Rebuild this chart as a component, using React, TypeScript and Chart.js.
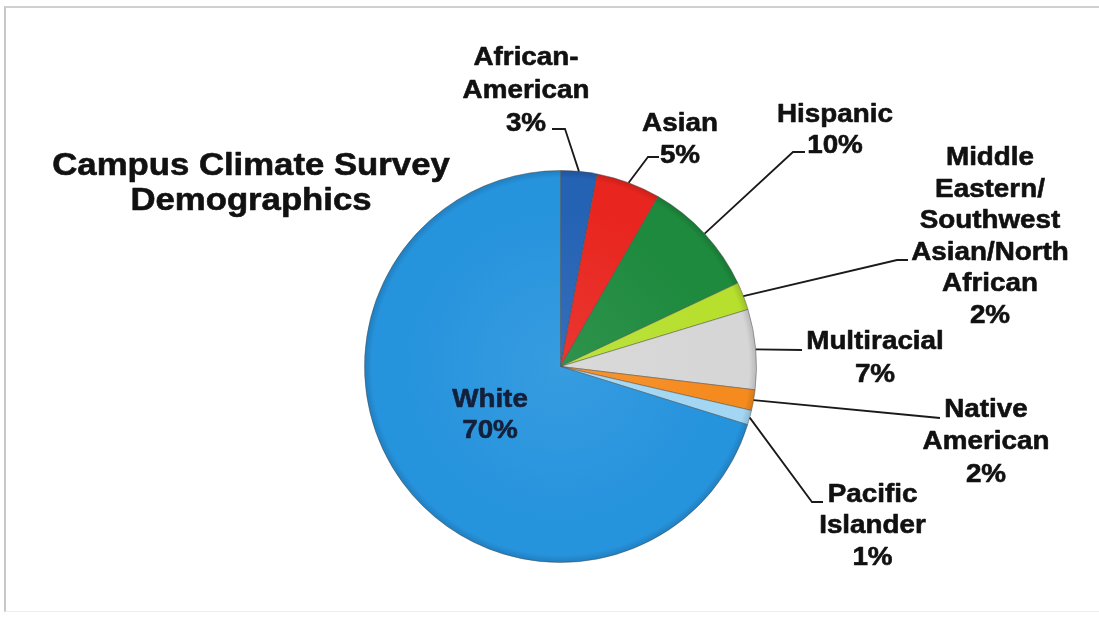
import React, { useEffect, useRef } from "react";
import { Chart, registerables } from "chart.js";

Chart.register(...registerables);

const categories = [
  "African-American",
  "Asian",
  "Hispanic",
  "Middle Eastern/Southwest Asian/North African",
  "Multiracial",
  "Native American",
  "Pacific Islander",
  "White",
];
const values = [3.0, 5.3, 9.7, 2.3, 6.6, 1.7, 1.2, 70.2];
const labelLines = [
  ["African-", "American"],
  ["Asian"],
  ["Hispanic"],
  ["Middle", "Eastern/", "Southwest", "Asian/North", "African"],
  ["Multiracial"],
  ["Native", "American"],
  ["Pacific", "Islander"],
  ["White"],
];
const colors = ["#2462b4", "#e8261f", "#1d8a3d", "#b6df2e", "#d6d6d6", "#f58b1f", "#a2d6f2", "#2693dd"];
const titleLines = ["Campus Climate Survey", "Demographics"];

const FONT = "'Liberation Sans', Arial, Helvetica, sans-serif";

// layout of the label blocks (centre x, first baseline, line height, leader elbow points)
const labelLayout = [
  { cx: 526, y: 65, lh: 32.8, leader: [[565, 129], [552, 129]] },
  { cx: 680, y: 131, lh: 32, leader: [[648, 157], [659, 157]] },
  { cx: 835, y: 121.7, lh: 31.5, leader: [[793, 152], [805, 152]] },
  { cx: 990, y: 165, lh: 31.6, leader: [[897, 260], [908, 260]] },
  { cx: 875, y: 349, lh: 32.7, leader: [[802, 350]] },
  { cx: 986, y: 417, lh: 32.3, leader: [[940, 418]] },
  { cx: 872.5, y: 501.7, lh: 31.7, leader: [[812, 502], [823, 502]] },
  { cx: 490, y: 406.7, lh: 31.6, leader: [] as number[][] },
];

function shade(hex: string, f: number) {
  const n = parseInt(hex.slice(1), 16);
  let r = (n >> 16) & 255, g = (n >> 8) & 255, b = n & 255;
  const t = f < 0 ? 0 : 255;
  const p = Math.abs(f);
  r = Math.round((t - r) * p + r);
  g = Math.round((t - g) * p + g);
  b = Math.round((t - b) * p + b);
  return `rgb(${r},${g},${b})`;
}

function boldText(ctx: any, t: string, x: number, y: number, sx: number, color: string) {
  ctx.save();
  ctx.translate(x, y);
  ctx.scale(sx, 1);
  ctx.fillStyle = color;
  ctx.strokeStyle = color;
  ctx.lineWidth = 0.6;
  ctx.lineJoin = "round";
  ctx.fillText(t, 0, 0);
  ctx.strokeText(t, 0, 0);
  ctx.restore();
}

const labelPlugin = {
  id: "pieLabels",
  afterDatasetsDraw(chart: any) {
    const ctx = chart.ctx;
    const meta = chart.getDatasetMeta(0);
    ctx.save();
    ctx.textAlign = "center";
    ctx.textBaseline = "alphabetic";
    ctx.font = "bold 31px " + FONT;
    titleLines.forEach((t, i) => boldText(ctx, t, 251, 175 + i * 35, 1.12, "#111"));
    meta.data.forEach((arc: any, i: number) => {
      const lay = labelLayout[i];
      const p = arc.getProps(["x", "y", "startAngle", "endAngle", "outerRadius"], true);
      const mid = (p.startAngle + p.endAngle) / 2;
      if (lay.leader.length) {
        ctx.beginPath();
        ctx.strokeStyle = "#1a1a1a";
        ctx.lineWidth = 1.8;
        ctx.moveTo(p.x + Math.cos(mid) * p.outerRadius, p.y + Math.sin(mid) * p.outerRadius);
        lay.leader.forEach((pt) => ctx.lineTo(pt[0], pt[1]));
        ctx.stroke();
      }
      const lines = [...labelLines[i], Math.round(values[i]) + "%"];
      ctx.font = "bold 26px " + FONT;
      lines.forEach((t, j) =>
        boldText(ctx, t, lay.cx, lay.y + j * lay.lh, 1.07, i === 7 ? "#14203a" : "#111")
      );
    });
    ctx.restore();
  },
};

export default function App() {
  const ref = useRef<HTMLCanvasElement>(null);
  useEffect(() => {
    if (!ref.current) return;
    let chart: any = null;
    let cancelled = false;
    const build = () => {
      if (cancelled || !ref.current) return;
      chart = new Chart(ref.current, {
        type: "pie",
        data: {
          labels: categories,
          datasets: [
            {
              data: values,
              backgroundColor: (c: any) => {
                const base = colors[c.dataIndex];
                const area = c.chart.chartArea;
                if (!area) return base;
                const cx = (area.left + area.right) / 2;
                const cy = (area.top + area.bottom) / 2;
                const r = Math.min(area.right - area.left, area.bottom - area.top) / 2;
                const g = c.chart.ctx.createRadialGradient(cx, cy, 0, cx, cy, r);
                g.addColorStop(0, shade(base, 0.08));
                g.addColorStop(0.8, base);
                g.addColorStop(0.96, base);
                g.addColorStop(1, shade(base, -0.15));
                return g;
              },
              borderColor: "rgba(70,70,70,0.45)",
              borderWidth: 1,
            },
          ],
        },
        options: {
          animation: false,
          responsive: true,
          maintainAspectRatio: false,
          layout: { padding: { left: 364, right: 342, top: 170, bottom: 57 } },
          plugins: { legend: { display: false }, tooltip: { enabled: false }, title: { display: false } },
        },
        plugins: [labelPlugin],
      });
    };
    const fonts: any = (document as any).fonts;
    if (fonts && fonts.load) {
      Promise.all([
        fonts.load("bold 26px 'Liberation Sans'"),
        fonts.load("bold 31px 'Liberation Sans'"),
      ])
        .catch(() => null)
        .then(build);
    } else {
      build();
    }
    return () => {
      cancelled = true;
      if (chart) chart.destroy();
    };
  }, []);
  return (
    <div style={{ position: "absolute", left: 0, top: 0, width: 1099, height: 620, background: "#fff" }}>
      <div
        style={{
          position: "absolute",
          left: 4,
          top: 6,
          width: 1095,
          height: 606,
          borderTop: "2px solid #d0d0d0",
          borderLeft: "2px solid #c8c8c8",
          borderBottom: "1px solid #eeeeee",
          boxSizing: "border-box",
        }}
      />
      <canvas ref={ref} style={{ position: "absolute", left: 0, top: 0 }} />
    </div>
  );
}
